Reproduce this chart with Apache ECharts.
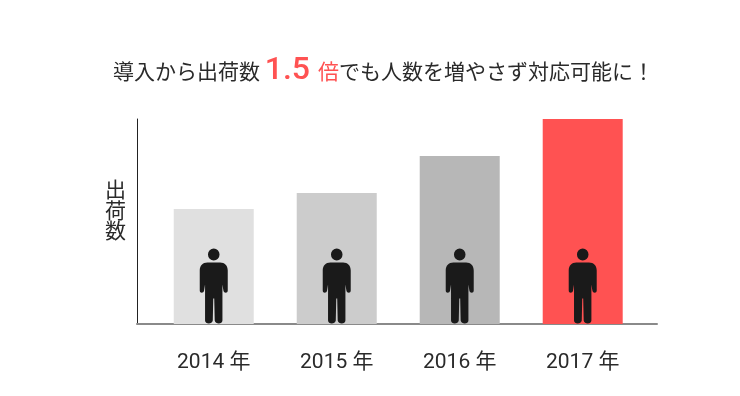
<!DOCTYPE html>
<html>
<head>
<meta charset="utf-8">
<style>
html, body { margin: 0; padding: 0; background: #fff; }
#chart { width: 740px; height: 396px; }
</style>
<script src="https://cdn.jsdelivr.net/npm/echarts@6/dist/echarts.min.js"></script>
</head>
<body>
<div id="chart"></div>
<script>
var years = [2014, 2015, 2016, 2017];
var shipments = [115, 131, 168, 205];
var personMid = [38, 38, 38, 38];
var barColors = ['#e0e0e0', '#cccccc', '#b7b7b7', '#ff5252'];

var jp = '"Noto Sans CJK JP", sans-serif';
var personPath = 'path://M14.5,0 a6,6 0 1,0 0.01,0 Z M8,14 H21 C26,14 29,17 29,22 V42 C29,45 25,45 24.5,42 L23.5,36 V72 C23.5,76 16,76 15.5,72 L15,50 H14 L13.5,72 C13,76 5.5,76 5.5,72 V36 L4.5,42 C4,45 0,45 0,42 V22 C0,17 3,14 8,14 Z';

var myChart = echarts.init(document.getElementById('chart'), null, { renderer: 'canvas' });

myChart.setOption({
    animation: false,
    backgroundColor: '#fff',
    title: [
        {
            left: 108,
            top: 46,
            text: '{a|導入から出荷数 }{n|1.5 }{r|倍}{a|でも人数を増やさず対応可能に！}',
            textStyle: {
                rich: {
                    a: { fontFamily: jp, fontSize: 21, fontWeight: 400, color: '#2a2a2a', lineHeight: 40 },
                    n: { fontFamily: 'Roboto', fontSize: 32, fontWeight: 500, color: '#ff5252', lineHeight: 40 },
                    r: { fontFamily: jp, fontSize: 21, fontWeight: 400, color: '#ff5252', lineHeight: 40 }
                }
            }
        },
        {
            left: 100,
            top: 174,
            text: '出\n荷\n数',
            textStyle: { fontFamily: jp, fontSize: 21, fontWeight: 400, color: '#2a2a2a', lineHeight: 20.5 }
        }
    ],
    grid: { left: 137, right: 83, top: 119, bottom: 72 },
    xAxis: {
        type: 'value',
        min: 2013.376,
        max: 2017.604,
        splitLine: { show: false },
        axisLine: { show: true, onZero: false, lineStyle: { color: '#8a8a8a', width: 2 } },
        axisTick: { show: false },
        axisLabel: {
            customValues: years,
            margin: 28,
            fontFamily: 'Roboto, ' + jp,
            fontSize: 21,
            color: '#2a2a2a',
            formatter: function(v) {
                return v + ' 年';
            }
        }
    },
    yAxis: {
        type: 'value',
        min: 0,
        max: 205,
        splitLine: { show: false },
        axisLine: { show: true, lineStyle: { color: '#222', width: 1 } },
        axisTick: { show: false },
        axisLabel: { show: false }
    },
    series: [
        {
            type: 'bar',
            barWidth: 80,
            data: years.map(function(y, i) {
                return { value: [y, shipments[i]], itemStyle: { color: barColors[i] } };
            })
        },
        {
            type: 'scatter',
            symbol: personPath,
            symbolSize: [28, 75],
            symbolKeepAspect: false,
            itemStyle: { color: '#1a1a1a', opacity: 1 },
            z: 5,
            data: years.map(function(y, i) {
                return [y, personMid[i]];
            })
        }
    ]
});
</script>
</body>
</html>
